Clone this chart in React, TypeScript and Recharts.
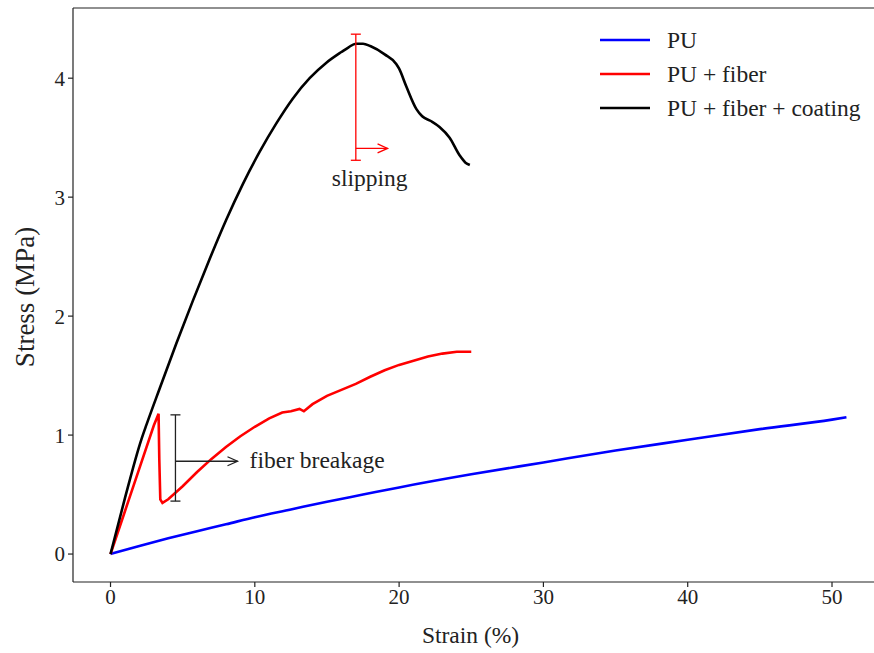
import { LineChart, Line, XAxis, YAxis, ReferenceLine, ReferenceDot } from "recharts";

const FONT = "'Liberation Serif', 'DejaVu Serif', serif";

// PU only
const puStrain = [0, 2, 4, 6, 8, 10, 12.5, 15, 17.5, 20, 25, 30, 35, 40, 45, 50, 51];
const puStress = [0, 0.068, 0.132, 0.192, 0.25, 0.31, 0.375, 0.44, 0.5, 0.56, 0.67, 0.77, 0.87, 0.96, 1.05, 1.13, 1.15];

// PU + fiber
const fiberStrain = [0, 1, 2, 3, 3.33, 3.38, 3.45, 3.6, 4, 5, 6, 7, 8, 9, 10, 11, 11.9, 12.5, 13.1, 13.4, 14, 15, 16, 17, 18, 19, 20, 21, 22, 23, 24, 25];
const fiberStress = [0, 0.36, 0.72, 1.08, 1.18, 0.8, 0.46, 0.43, 0.46, 0.57, 0.69, 0.8, 0.9, 0.99, 1.07, 1.14, 1.19, 1.2, 1.22, 1.2, 1.26, 1.33, 1.38, 1.43, 1.49, 1.545, 1.59, 1.625, 1.66, 1.685, 1.7, 1.7];

// PU + fiber + coating
const coatStrain = [0, 1, 2.13, 2.5, 3.4, 4.56, 5.71, 6.87, 8.02, 9.17, 10.33, 11.49, 12.64, 13.8, 14.96, 16, 16.5, 17, 17.5, 18, 19, 19.8, 20, 20.5, 21.2, 21.6, 22.2, 22.8, 23.5, 24.2, 24.6, 24.9];
const coatStress = [0, 0.47, 0.96, 1.09, 1.39, 1.77, 2.13, 2.48, 2.81, 3.11, 3.38, 3.62, 3.83, 4.0, 4.13, 4.22, 4.26, 4.29, 4.29, 4.27, 4.2, 4.12, 4.08, 3.93, 3.74, 3.68, 3.64, 3.59, 3.5, 3.35, 3.29, 3.27];

const xTicks = [0, 10, 20, 30, 40, 50];
const yTicks = [0, 1, 2, 3, 4];
const xDomain = [-2.6, 52.91];
const yDomain = [-0.235, 4.59];

// annotations: error bar [x, low, high], arrow [x0, x1, y], label [x, y]
const breakBar = [4.5, 0.445, 1.17];
const breakArrow = [4.5, 8.8, 0.78];
const breakLabel = [9.64, 0.79];
const slipBar = [17.0, 3.31, 4.37];
const slipArrow = [17.0, 19.2, 3.41];
const slipLabel = [17.96, 3.16];

const toPoints = (xs: number[], ys: number[]) => xs.map((x, i) => ({ x, y: ys[i] }));

const series = [
  { name: "PU", color: "#0000ff", curve: "monotone", data: toPoints(puStrain, puStress) },
  { name: "PU + fiber", color: "#ff0000", curve: "linear", data: toPoints(fiberStrain, fiberStress) },
  { name: "PU + fiber + coating", color: "#000000", curve: "monotone", data: toPoints(coatStrain, coatStress) },
];

const errorBarShape = (color: string) => (p: any) => (
  <g stroke={color} strokeWidth={1.3}>
    <line x1={p.x1} y1={p.y1} x2={p.x2} y2={p.y2} />
    <line x1={p.x1 - 5} y1={p.y1} x2={p.x1 + 5} y2={p.y1} />
    <line x1={p.x2 - 5} y1={p.y2} x2={p.x2 + 5} y2={p.y2} />
  </g>
);

const arrowShape = (color: string) => (p: any) => (
  <g stroke={color} strokeWidth={1.3} fill="none">
    <line x1={p.x1} y1={p.y1} x2={p.x2} y2={p.y2} />
    <polyline points={`${p.x2 - 10},${p.y2 - 4.5} ${p.x2},${p.y2} ${p.x2 - 10},${p.y2 + 4.5}`} />
  </g>
);

const textShape = (text: string, anchor: "start" | "middle") => (p: any) => (
  <text x={p.cx} y={p.cy} textAnchor={anchor} dominantBaseline="central" fontSize={23.5} fontFamily={FONT} fill="#222">
    {text}
  </text>
);

function LegendBox() {
  return (
    <svg width={280} height={110} style={{ position: "absolute", left: 598, top: 22 }}>
      {series.map((s, i) => (
        <g key={s.name}>
          <line x1={2} x2={52} y1={18 + i * 34} y2={18 + i * 34} stroke={s.color} strokeWidth={2.6} />
          <text x={69} y={18 + i * 34} dominantBaseline="central" fontSize={23.5} fontFamily={FONT} fill="#222">
            {s.name}
          </text>
        </g>
      ))}
    </svg>
  );
}

export default function App() {
  const tick = { fontSize: 21, fontFamily: FONT, fill: "#222" };
  return (
    <div style={{ position: "absolute", left: 0, top: 0, width: 874, height: 653, background: "#fff", fontFamily: FONT }}>
      <LineChart width={874} height={653} margin={{ top: 8, right: 0, bottom: 0, left: 0 }}>
        <XAxis
          type="number"
          dataKey="x"
          domain={xDomain}
          ticks={xTicks}
          allowDataOverflow
          height={71}
          tickSize={5}
          tickMargin={2}
          tick={tick}
          stroke="#222"
          strokeWidth={1.2}
          label={(props: any) => {
            const vb = props.viewBox;
            return (
              <text x={vb.x + vb.width / 2 - 3} y={635} textAnchor="middle" dominantBaseline="central" fontSize={23.5} fontFamily={FONT} fill="#222">
                Strain (%)
              </text>
            );
          }}
        />
        <YAxis
          type="number"
          domain={yDomain}
          ticks={yTicks}
          allowDataOverflow
          width={73}
          tickSize={5}
          tickMargin={3}
          tick={tick}
          stroke="#222"
          strokeWidth={1.2}
          label={(props: any) => {
            const vb = props.viewBox;
            const cy = vb.y + vb.height / 2 + 2;
            return (
              <text x={25} y={cy} transform={`rotate(-90 25 ${cy})`} textAnchor="middle" dominantBaseline="central" fontSize={27} fontFamily={FONT} fill="#222">
                Stress (MPa)
              </text>
            );
          }}
        />
        <ReferenceLine y={yDomain[1]} stroke="#222" strokeWidth={1.2} ifOverflow="visible" />
        {series.map((s) => (
          <Line
            key={s.name}
            data={s.data}
            dataKey="y"
            name={s.name}
            type={s.curve as any}
            stroke={s.color}
            strokeWidth={2.6}
            dot={false}
            activeDot={false}
            isAnimationActive={false}
          />
        ))}
        <ReferenceLine
          segment={[{ x: breakBar[0], y: breakBar[1] }, { x: breakBar[0], y: breakBar[2] }]}
          shape={errorBarShape("#222")}
        />
        <ReferenceLine
          segment={[{ x: breakArrow[0], y: breakArrow[2] }, { x: breakArrow[1], y: breakArrow[2] }]}
          shape={arrowShape("#222")}
        />
        <ReferenceDot x={breakLabel[0]} y={breakLabel[1]} r={0} shape={textShape("fiber breakage", "start")} />
        <ReferenceLine
          segment={[{ x: slipBar[0], y: slipBar[1] }, { x: slipBar[0], y: slipBar[2] }]}
          shape={errorBarShape("#ff0000")}
        />
        <ReferenceLine
          segment={[{ x: slipArrow[0], y: slipArrow[2] }, { x: slipArrow[1], y: slipArrow[2] }]}
          shape={arrowShape("#ff0000")}
        />
        <ReferenceDot x={slipLabel[0]} y={slipLabel[1]} r={0} shape={textShape("slipping", "middle")} />
      </LineChart>
      <LegendBox />
    </div>
  );
}
